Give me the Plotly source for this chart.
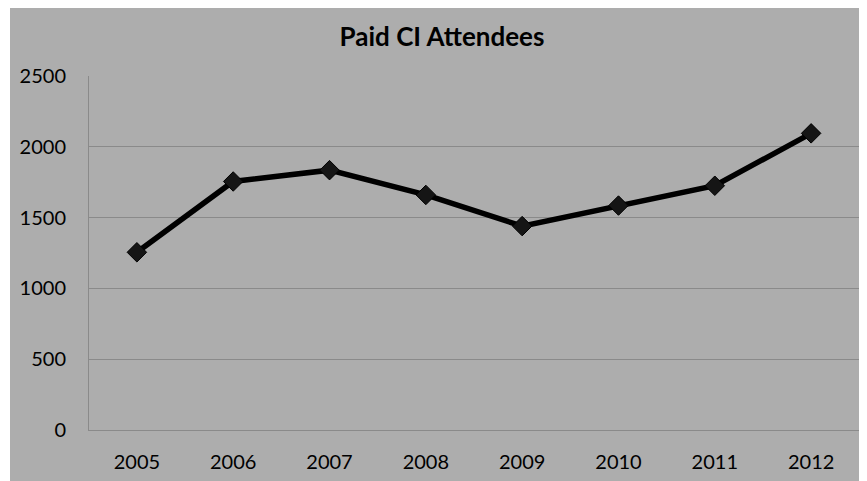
import plotly.graph_objects as go

years = ["2005", "2006", "2007", "2008", "2009", "2010", "2011", "2012"]
attendees = [1255, 1755, 1835, 1660, 1440, 1585, 1725, 2095]
y_ticks = [0, 500, 1000, 1500, 2000, 2500]

BG = "#adadad"
GRID = "#8a8a8a"
FONT = "Lato"

fig = go.Figure()
fig.add_trace(go.Scatter(
    x=years, y=attendees, mode="lines+markers",
    line=dict(color="#000000", width=5.5),
    marker=dict(symbol="diamond", size=15, color="#151515",
                line=dict(color="#000000", width=1)),
    showlegend=False, hoverinfo="x+y",
))

W, H = 859, 473
L, R, T, B = 81, 8, 68, 51
pw, ph = W - L - R, H - T - B

# thin white strip on the left edge
fig.add_shape(type="rect", xref="paper", yref="paper", layer="below",
              x0=-L / pw - 0.01, x1=(2 - L) / pw,
              y0=-B / ph - 0.1, y1=1 + T / ph + 0.1,
              fillcolor="white", line=dict(width=0))

fig.update_layout(
    width=W, height=H,
    margin=dict(l=L, r=R, t=T, b=B, autoexpand=False),
    paper_bgcolor=BG, plot_bgcolor=BG,
    title=dict(text="<b>Paid CI Attendees</b>", x=434 / W, xanchor="center",
               y=1 - 29 / H, yanchor="middle",
               font=dict(family=FONT, size=26, color="#000000")),
    font=dict(family=FONT, size=20, color="#000000"),
    xaxis=dict(type="category", showgrid=False, showline=True, linecolor=GRID,
               linewidth=1, ticks="", ticklabelstandoff=14, automargin=False,
               tickfont=dict(family=FONT, size=20, color="#000000")),
    yaxis=dict(range=[0, 2500], tickvals=y_ticks, showgrid=True, gridcolor=GRID,
               gridwidth=1, showline=True, linecolor=GRID, linewidth=1,
               zeroline=False, ticks="", ticklabelstandoff=18, automargin=False,
               tickfont=dict(family=FONT, size=20, color="#000000")),
)

fig.write_html("out.html")
